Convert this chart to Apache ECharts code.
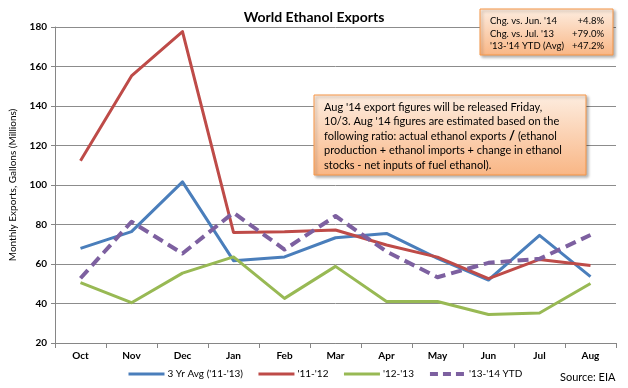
<!DOCTYPE html>
<html><head><meta charset="utf-8">
<script src="https://cdn.jsdelivr.net/npm/echarts@6/dist/echarts.min.js"></script>
<style>html,body{margin:0;padding:0;background:#fff}#c{width:628px;height:388px}</style>
</head><body><div id="c"></div>
<script>
const categories = ['Oct','Nov','Dec','Jan','Feb','Mar','Apr','May','Jun','Jul','Aug'];
const avg3yr = [67.9, 76.4, 101.6, 61.7, 63.6, 73.3, 75.5, 62.8, 51.9, 74.5, 53.6];
const y1112 = [112.3, 155.2, 177.7, 76.0, 76.3, 77.2, 69.6, 63.5, 52.6, 62.3, 59.2];
const y1213 = [50.6, 40.4, 55.4, 63.6, 42.6, 58.8, 41.0, 41.0, 34.4, 35.2, 50.1];
const y1314 = [52.8, 81.4, 65.3, 86.0, 67.3, 84.3, 66.3, 53.3, 60.6, 62.6, 74.7];
const seriesNames = ["3 Yr Avg ('11-'13)", "'11-'12", "'12-'13", "'13-'14 YTD"];
const yTicks = {min: 20, max: 180, interval: 20};
const changeLabels = ["Chg. vs. Jun. '14", "Chg. vs. Jul. '13", "'13-'14 YTD (Avg)"];
const changeValues = ["+4.8%", "+79.0%", "+47.2%"];
const noteLines = [
  "Aug '14 export figures will be released Friday,",
  "10/3. Aug '14 figures are estimated based on the",
  "following ratio: actual ethanol exports {s|/} (ethanol",
  "production + ethanol imports + change in ethanol",
  "stocks - net inputs of fuel ethanol)."
];
const colors = ['#4A7EBB', '#BE4B48', '#98B954', '#7D60A0'];
const FONT = 'Lato, "Open Sans", sans-serif';

const chart = echarts.init(document.getElementById('c'));
const mkFill = () => new echarts.graphic.LinearGradient(0,0,0,1,[{offset:0,color:'#FDEDE0'},{offset:1,color:'#F9B685'}]);
const boxStyle = (f) => ({fill:f, stroke:'#F79646', lineWidth:1, shadowBlur:3, shadowOffsetX:2, shadowOffsetY:2, shadowColor:'rgba(0,0,0,0.3)'});

const graphics = [
  {type:'rect', shape:{x:480,y:9,width:133,height:46}, style:boxStyle(mkFill()), z:10},
  {type:'rect', shape:{x:314,y:95,width:272,height:80}, style:boxStyle(mkFill()), z:10},
  {type:'text', left:560, top:372, style:{text:'Source: EIA', font:'11px '+FONT, fill:'#000'}, z:11}
];
changeLabels.forEach((t,i)=>{
  graphics.push({type:'text', x:490, y:21+i*12.5, style:{text:t, font:'9.5px '+FONT, fill:'#000', textVerticalAlign:'middle'}, z:11});
  graphics.push({type:'text', x:604, y:21+i*12.5, style:{text:changeValues[i], font:'9.5px '+FONT, fill:'#000', textAlign:'right', textVerticalAlign:'middle'}, z:11});
});
noteLines.forEach((t,i)=>{
  graphics.push({type:'text', x:324, y:107+i*14.6, style:{text:t, fontSize:11, fontFamily:FONT, fill:'#000', verticalAlign:'middle',
    rich:{s:{fontSize:13, fontWeight:'bold', fontFamily:FONT, fill:'#000'}}}, z:11});
});

const data = [avg3yr, y1112, y1213, y1314];
chart.setOption({
  animation:false,
  textStyle:{fontFamily:FONT},
  title:{text:'World Ethanol Exports', left:'center', top:5, textStyle:{fontSize:14, fontWeight:'bold', color:'#000', fontFamily:FONT}},
  grid:{left:50, right:12, top:27, bottom:45},
  legend:{bottom:4, left:122, itemWidth:36, itemHeight:10, itemGap:14,
    itemStyle:{opacity:0},
    textStyle:{fontSize:10, color:'#000', fontFamily:FONT, padding:[0,0,0,-2]},
    data:seriesNames.map((n,i)=>({name:n, lineStyle:{width: i===3?4:3, color:colors[i], type: i===3?[8,5]:'solid'}}))},
  xAxis:{type:'category', data:categories, boundaryGap:true,
    axisLine:{lineStyle:{color:'#868686'}}, axisTick:{show:true, length:5, lineStyle:{color:'#868686'}},
    axisLabel:{fontSize:10, fontWeight:'bold', color:'#000', margin:8}},
  yAxis:{type:'value', min:yTicks.min, max:yTicks.max, interval:yTicks.interval,
    name:'Monthly Exports, Gallons (Millions)', nameLocation:'middle', nameGap:37, nameRotate:90,
    nameTextStyle:{fontSize:10, color:'#000', fontFamily:FONT},
    axisLine:{show:true, lineStyle:{color:'#868686'}}, axisTick:{show:true, length:4, lineStyle:{color:'#868686'}},
    splitLine:{lineStyle:{color:'#8C8C8C', width:1}},
    axisLabel:{fontSize:10, fontWeight:'bold', color:'#000', margin:8}},
  series:data.map((d,i)=>({
    name:seriesNames[i], type:'line', data:d, symbol:'none', color:colors[i],
    lineStyle:{width: i===3?4:3, color:colors[i], type: i===3?[11,6]:'solid', cap:'butt', join:'round'},
    z: i===3?5:3
  })),
  graphic:graphics
});
</script></body></html>
